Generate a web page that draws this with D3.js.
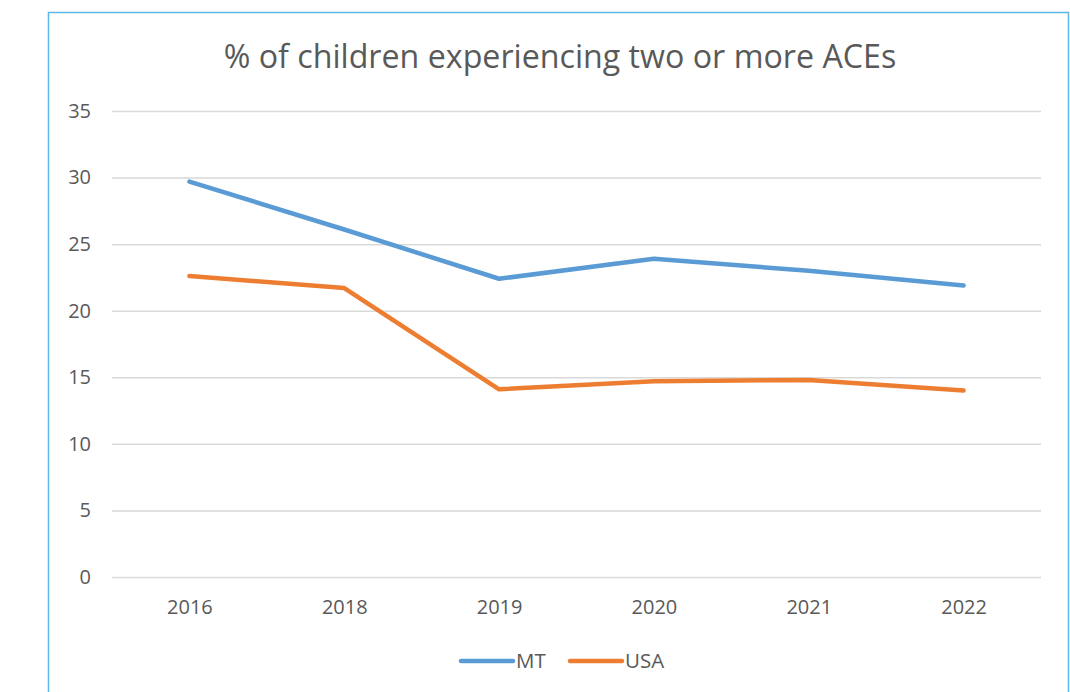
<!DOCTYPE html>
<html>
<head>
<meta charset="utf-8">
<script src="https://cdn.jsdelivr.net/npm/d3@7"></script>
<style>
  html, body { margin: 0; padding: 0; background: #fff; }
  svg { display: block; }
  text { font-family: "Open Sans", "Liberation Sans", sans-serif; fill: #595959; }
</style>
</head>
<body>
<svg id="chart" width="1070" height="692"></svg>
<script>
// Survey years on the x axis
const years = ["2016", "2018", "2019", "2020", "2021", "2022"];
// % of children experiencing two or more ACEs
const mtValues  = [29.7, 26.1, 22.4, 23.9, 23.0, 21.9];
const usaValues = [22.6, 21.7, 14.1, 14.7, 14.8, 14.0];
const yTicks = [0, 5, 10, 15, 20, 25, 30, 35];

const series = [
  { name: "MT",  values: mtValues,  color: "#5b9bd5" },
  { name: "USA", values: usaValues, color: "#ed7d31" }
];

const svg = d3.select("#chart");

// outer frame
svg.append("rect")
  .attr("x", 48.5).attr("y", 12.5)
  .attr("width", 1020).attr("height", 700)
  .attr("fill", "#fff")
  .attr("stroke", "#5bb8e8").attr("stroke-width", 1.5);

const plot = { left: 112, right: 1041, top: 111, bottom: 577 };

const x = d3.scalePoint()
  .domain(years)
  .range([plot.left, plot.right])
  .padding(0.5);

const y = d3.scaleLinear()
  .domain([0, 35])
  .range([plot.bottom, plot.top]);

// title
svg.append("text")
  .attr("x", 560).attr("y", 68)
  .attr("text-anchor", "middle")
  .style("font-size", "32.2px")
  .text("% of children experiencing two or more ACEs");

// horizontal gridlines + y labels
const yAxis = d3.axisLeft(y)
  .tickValues(yTicks)
  .tickSize(-(plot.right - plot.left))
  .tickPadding(21);

const gy = svg.append("g")
  .attr("transform", `translate(${plot.left},0)`)
  .call(yAxis);
gy.select(".domain").remove();
gy.selectAll(".tick line").attr("stroke", "#d9d9d9").attr("stroke-width", 1.5);
gy.selectAll(".tick text")
  .style("font-size", "20px")
  .style("font-family", "'Open Sans', sans-serif")
  .attr("fill", "#595959");

// x labels
const xAxis = d3.axisBottom(x).tickSize(0).tickPadding(23);
const gx = svg.append("g")
  .attr("transform", `translate(0,${plot.bottom})`)
  .call(xAxis);
gx.select(".domain").remove();
gx.selectAll(".tick text")
  .style("font-size", "20px")
  .style("font-family", "'Open Sans', sans-serif")
  .attr("fill", "#595959");

// series lines
const line = d3.line()
  .x((d, i) => x(years[i]))
  .y(d => y(d));

svg.append("g").selectAll("path")
  .data(series)
  .join("path")
  .attr("d", d => line(d.values))
  .attr("fill", "none")
  .attr("stroke", d => d.color)
  .attr("stroke-width", 4.5)
  .attr("stroke-linecap", "round")
  .attr("stroke-linejoin", "round");

// legend
const legendItems = [
  { name: "MT",  color: "#5b9bd5", x0: 461 },
  { name: "USA", color: "#ed7d31", x0: 570 }
];
const lg = svg.append("g");
legendItems.forEach(item => {
  lg.append("line")
    .attr("x1", item.x0).attr("x2", item.x0 + 52)
    .attr("y1", 661).attr("y2", 661)
    .attr("stroke", item.color)
    .attr("stroke-width", 4.5)
    .attr("stroke-linecap", "round");
  lg.append("text")
    .attr("x", item.x0 + 55).attr("y", 668)
    .style("font-size", "20.5px")
    .text(item.name);
});
</script>
</body>
</html>
